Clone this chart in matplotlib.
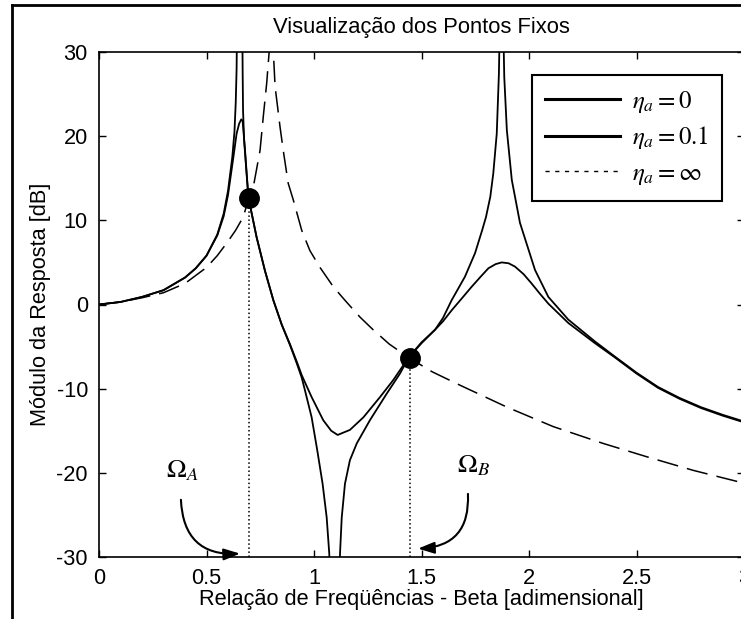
import numpy as np
import matplotlib
matplotlib.use('Agg')
import matplotlib.pyplot as plt
from matplotlib.lines import Line2D

plt.rcParams['font.family'] = ['Liberation Sans', 'DejaVu Sans']
plt.rcParams['mathtext.fontset'] = 'stix'
plt.rcParams['axes.unicode_minus'] = False

# curva eta_a = 0 (sem amortecimento)
beta_eta0 = [0, 0.1, 0.2, 0.3, 0.4, 0.45, 0.5, 0.55, 0.58, 0.6, 0.61, 0.62, 0.63, 0.636, 0.64, 0.643,
             0.666, 0.668, 0.67, 0.675, 0.685, 0.695, 0.733, 0.772, 0.811, 0.85, 0.888, 0.92, 0.943,
             0.958, 0.989, 1.015, 1.04, 1.059, 1.071, 1.078,
             1.117, 1.121, 1.129, 1.144, 1.167, 1.199, 1.26, 1.338, 1.40, 1.44, 1.50, 1.563, 1.60,
             1.64, 1.702, 1.749, 1.783, 1.80, 1.82, 1.834, 1.85, 1.86, 1.866,
             1.878, 1.885, 1.897, 1.92, 1.958, 2.028, 2.09, 2.183, 2.307, 2.4, 2.5, 2.6, 2.7, 2.8,
             2.9, 3.0]
db_eta0 = [0, 0.3, 0.9, 1.7, 3.2, 4.3, 5.8, 8.3, 10.8, 13.5, 15.5, 17.5, 20.5, 24, 28, 36,
           36, 28, 23, 19.5, 16, 12.7, 8.0, 4.0, 0.5, -2.4, -4.8, -7.0, -8.7,
           -10.2, -13.4, -17.3, -21.3, -25.3, -29.6, -36,
           -36, -29.6, -25.3, -21.3, -18.5, -16.5, -13.75, -10.6, -8.2, -6.3, -4.6, -3.0, -1.6,
           0.5, 3.3, 6.1, 8.9, 10.4, 12.8, 15.6, 20.3, 27.4, 36,
           36, 27, 20.7, 14.8, 9.7, 4.1, 0.9, -1.8, -4.4, -6.2, -8.1, -9.8, -11.1, -12.2,
           -13.1, -13.9]

# curva eta_a = 0.1
beta_eta01 = [0, 0.1, 0.2, 0.3, 0.4, 0.45, 0.5, 0.55, 0.58, 0.6, 0.625, 0.64, 0.652, 0.662, 0.668,
              0.679, 0.695, 0.733, 0.772, 0.811, 0.85, 0.888, 0.92, 0.943, 0.989, 1.043, 1.08,
              1.11, 1.167, 1.23, 1.307, 1.368, 1.44, 1.50, 1.563, 1.60, 1.64, 1.69, 1.733, 1.775,
              1.811, 1.845, 1.873, 1.905, 1.935, 1.975, 2.012, 2.05, 2.09, 2.183, 2.307, 2.4, 2.5,
              2.6, 2.7, 2.8, 2.9, 3.0]
db_eta01 = [0, 0.3, 0.9, 1.7, 3.2, 4.3, 5.8, 8.2, 10.5, 13.0, 17.5, 20.3, 21.5, 22.0, 21.8,
            18.4, 12.7, 8.0, 4.0, 0.5, -2.4, -4.7, -6.8, -8.4, -11.0, -13.75, -15.0,
            -15.5, -14.9, -13.4, -11.0, -9.0, -6.3, -4.5, -3.0, -2.0, -0.7, 0.8, 2.1, 3.3,
            4.3, 4.8, 5.0, 4.9, 4.5, 3.6, 2.5, 1.3, 0.1, -2.2, -4.6, -6.3, -8.2,
            -9.9, -11.2, -12.3, -13.2, -14.0]

# curva eta_a = infinito
beta_inf = [0, 0.1, 0.2, 0.3, 0.4, 0.5, 0.55, 0.6, 0.635, 0.671, 0.695, 0.718, 0.749, 0.764, 0.78,
            0.792, 0.797,
            0.808, 0.811, 0.819, 0.842, 0.857, 0.88, 0.904, 0.943, 0.981, 1.028, 1.09, 1.144, 1.214,
            1.275, 1.35, 1.44, 1.55, 1.68, 1.898, 2.112, 2.344, 2.549, 2.763, 2.98, 3.0]
db_inf = [0, 0.3, 0.8, 1.4, 2.5, 4.4, 5.8, 7.5, 8.8, 10.4, 12.5, 14.0, 18.3, 22.3, 26.3,
          30.2, 36,
          36, 30.0, 25.9, 21.1, 18.3, 14.4, 12.4, 8.8, 6.4, 4.4, 2.1, 0.5, -1.5,
          -3.0, -4.7, -6.3, -8.0, -9.6, -12.2, -14.5, -16.5, -18.1, -19.7, -21.1, -21.3]

# pontos fixos
fix_beta = [0.697, 1.445]
fix_db = [12.7, -6.3]

legend_labels = [r'$\eta_a = 0$', r'$\eta_a = 0.1$', r'$\eta_a = \infty$']

fig = plt.figure(figsize=(7.41, 6.19), dpi=100)
ax = fig.add_axes([99 / 741, 62 / 619, 645 / 741, 505 / 619])

ax.plot(beta_eta0, db_eta0, 'k-', lw=1.3)
ax.plot(beta_eta01, db_eta01, 'k-', lw=1.3)
ax.plot(beta_inf, db_inf, color='k', lw=1.1, linestyle=(0, (14, 6)))

ax.vlines(fix_beta, -30, fix_db, colors='k', linestyles=':', lw=1.1)
ax.plot(fix_beta, fix_db, 'ko', ms=14)

ax.set_xlim(0, 3)
ax.set_ylim(-30, 30)
ax.set_xticks(np.arange(0, 3.01, 0.5))
ax.set_xticklabels(['0', '0.5', '1', '1.5', '2', '2.5', '3'])
ax.set_yticks(np.arange(-30, 31, 10))
ax.tick_params(direction='in', top=True, right=True, length=5, width=1,
               labelsize=15.7, pad=8)
for s in ax.spines.values():
    s.set_linewidth(1.2)

ax.set_title('Visualização dos Pontos Fixos', fontsize=15.8, pad=14)
ax.set_xlabel('Relação de Freqüências - Beta [adimensional]', fontsize=15.7)
ax.set_ylabel('Módulo da Resposta [dB]', fontsize=15.7)
ax.xaxis.set_label_coords(0.5, -0.064)
ax.yaxis.set_label_coords(-0.074, 0.5)

# legenda
handles = [Line2D([], [], color='k', lw=2.2),
           Line2D([], [], color='k', lw=2.2),
           Line2D([], [], color='k', lw=1.0, linestyle=(0, (3, 4)))]
leg = ax.legend(handles, legend_labels, loc='upper right', bbox_to_anchor=(0.966, 0.954),
                fontsize=18, frameon=True, fancybox=False, framealpha=1,
                handlelength=3.0, handletextpad=0.45, labelspacing=0.38, borderpad=0.55,
                borderaxespad=0)
leg.get_frame().set_edgecolor('k')
leg.get_frame().set_linewidth(1.5)

# setas Omega_A e Omega_B
ax.text(0.386, -19.8, r'$\Omega_A$', fontsize=19, ha='center', va='center')
ax.annotate('', xy=(0.656, -29.6), xytext=(0.381, -23.2),
            arrowprops=dict(arrowstyle='-|>,head_length=0.7,head_width=0.25', color='k', lw=1.5,
                            mutation_scale=14, shrinkA=0, shrinkB=0,
                            connectionstyle='arc3,rad=0.5'))
ax.text(1.74, -19.2, r'$\Omega_B$', fontsize=19, ha='center', va='center')
ax.annotate('', xy=(1.484, -29.0), xytext=(1.716, -22.5),
            arrowprops=dict(arrowstyle='-|>,head_length=0.7,head_width=0.25', color='k', lw=1.5,
                            mutation_scale=14, shrinkA=0, shrinkB=0,
                            connectionstyle='arc3,rad=-0.5'))

# moldura da figura (esquerda e topo)
fig.add_artist(Line2D([12 / 741, 12 / 741], [0, 1 - 5 / 619], color='k', lw=2,
                      transform=fig.transFigure))
fig.add_artist(Line2D([12 / 741, 1], [1 - 5 / 619, 1 - 5 / 619], color='k', lw=2,
                      transform=fig.transFigure))

fig.savefig('out.png', dpi=100)
